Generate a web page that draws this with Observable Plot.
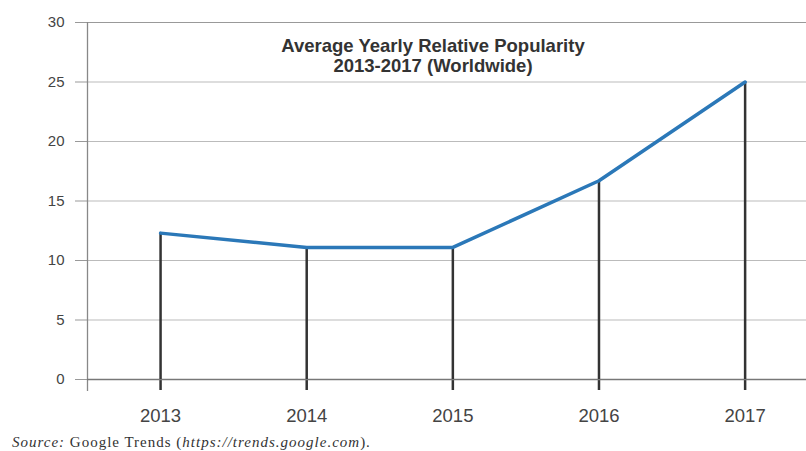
<!DOCTYPE html>
<html>
<head>
<meta charset="utf-8">
<script src="https://cdn.jsdelivr.net/npm/d3@7"></script>
<script src="https://cdn.jsdelivr.net/npm/@observablehq/plot@0.6"></script>
<style>
  html, body { margin: 0; padding: 0; background: #fff; overflow: hidden; }
  #chart svg { display: block; }
  #caption { font-family: "Liberation Serif", "DejaVu Serif", serif; font-size: 15px; letter-spacing: 1px; color: #333; padding-left: 12px; line-height: 16px; margin-top: 9px; white-space: nowrap; }
</style>
</head>
<body>
<div id="chart"></div>
<div id="caption"><i>Source:</i> Google Trends (<i>https://trends.google.com</i>).</div>
<script>
const years = [2013, 2014, 2015, 2016, 2017];
const popularity = [12.3, 11.1, 11.1, 16.7, 25.0];
const yTicks = [0, 5, 10, 15, 20, 25, 30];
const titleLines = ["Average Yearly Relative Popularity", "2013-2017 (Worldwide)"];

const data = years.map((year, i) => ({year, value: popularity[i]}));
const xDomain = [2012.5, 2017.42];

const chart = Plot.plot({
  width: 806,
  height: 425,
  marginLeft: 87,
  marginRight: 0,
  marginTop: 22,
  marginBottom: 46,
  style: {fontFamily: "'Liberation Sans', Arial, sans-serif", background: "#fff", overflow: "visible"},
  x: {domain: xDomain},
  y: {domain: [0, 30]},
  marks: [
    Plot.gridY(yTicks, {stroke: "#bbb", strokeOpacity: 1, strokeWidth: 1}),
    Plot.ruleY([30], {stroke: "#999", strokeWidth: 1.2}),
    Plot.axisY(yTicks, {tickSize: 12, tickPadding: 11, fontSize: 15, fill: "#444", stroke: "#999", tickFormat: d => d, label: null}),
    Plot.axisX(years, {tickSize: 11, tickPadding: 18, fontSize: 18.5, fill: "#444", stroke: "#333", strokeWidth: 2.5, tickFormat: d => String(d), label: null}),
    Plot.ruleX([xDomain[0]], {y1: -1, y2: 30, stroke: "#888", strokeWidth: 1.3}),
    Plot.ruleY([0], {stroke: "#777", strokeWidth: 1.3}),
    Plot.ruleX(data, {x: "year", y1: 0, y2: "value", stroke: "#333", strokeWidth: 2.5}),
    Plot.line(data, {x: "year", y: "value", stroke: "#2b78b8", strokeWidth: 3.5, strokeLinejoin: "miter"}),
    Plot.text([titleLines.join("\n")], {frameAnchor: "top", dx: -14, dy: 15, lineHeight: 1.1, fontSize: 18.5, fontWeight: "bold", fill: "#333", textAnchor: "middle"})
  ]
});
document.getElementById("chart").append(chart);
</script>
</body>
</html>
